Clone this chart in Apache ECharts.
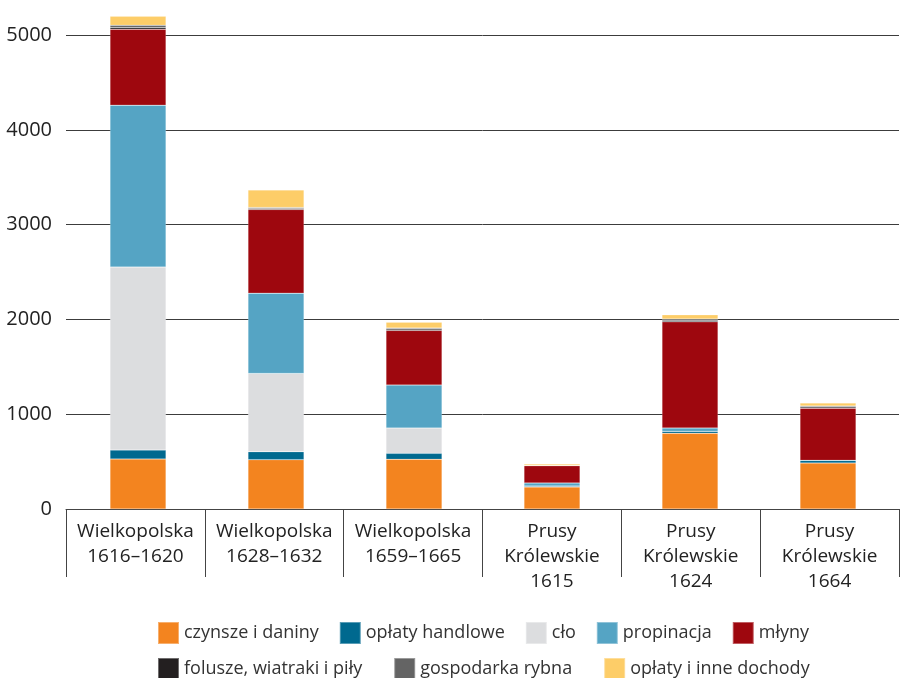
<!DOCTYPE html>
<html>
<head>
<meta charset="utf-8">
<script src="https://cdn.jsdelivr.net/npm/echarts@6/dist/echarts.min.js"></script>
<style>html,body{margin:0;padding:0;background:#fff}#c{width:904px;height:678px}</style>
</head>
<body>
<div id="c"></div>
<script>
const categories = ['Wielkopolska\n1616–1620','Wielkopolska\n1628–1632','Wielkopolska\n1659–1665','Prusy\nKrólewskie\n1615','Prusy\nKrólewskie\n1624','Prusy\nKrólewskie\n1664'];
const seriesNames = ['czynsze i daniny','opłaty handlowe','cło','propinacja','młyny','folusze, wiatraki i piły','gospodarka rybna','opłaty i inne dochody'];
const czynsze    = [527, 520, 524, 232, 798, 485];
const handlowe   = [95, 84, 63, 10, 21, 28];
const clo        = [1930, 826, 267, 0, 0, 0];
const propinacja = [1708, 847, 453, 33, 35, 0];
const mlyny      = [800, 882, 577, 182, 1120, 549];
const folusze    = [18, 12, 14, 2, 17, 15];
const rybna      = [24, 10, 10, 0, 12, 9];
const oplaty     = [95, 183, 63, 15, 45, 31];
const yTicks = [0, 1000, 2000, 3000, 4000, 5000];

const colors = ['#F3841F','#00698F','#DCDDDF','#55A4C4','#9E070E','#231F20','#646464','#FDCD68'];
const values = [czynsze, handlowe, clo, propinacja, mlyny, folusze, rybna, oplaty];
const font = '"Open Sans", "Noto Sans", sans-serif';

const chart = echarts.init(document.getElementById('c'), null, {renderer:'canvas'});
chart.setOption({
  animation: false,
  color: colors,
  grid: [
    {left: 66, right: 5, top: 35, bottom: 169, containLabel: false},
    {left: 69, right: 7, top: 35, bottom: 169, containLabel: false}
  ],
  legend: [
    {data: seriesNames.slice(0,5), top: 616, left: 152, itemWidth: 21, itemHeight: 22, itemGap: 20, icon: 'rect',
     textStyle: {fontSize: 18, color: '#333', fontFamily: font}},
    {data: seriesNames.slice(5), top: 652, left: 152, itemWidth: 21, itemHeight: 22, itemGap: 31, icon: 'rect',
     textStyle: {fontSize: 18, color: '#333', fontFamily: font}}
  ],
  xAxis: [{
    type: 'category', data: categories, gridIndex: 0,
    axisLine: {lineStyle: {color: '#444', width: 1}},
    axisTick: {show: true, length: 68, interval: 0, lineStyle: {color: '#444'}},
    axisLabel: {interval: 0, margin: 10, fontSize: 19, lineHeight: 25, color: '#222', fontFamily: font, verticalAlign: 'top'}
  }, {
    type: 'category', data: categories, gridIndex: 1, show: false
  }],
  yAxis: [{
    type: 'value', min: 0, max: 5000, interval: 1000, gridIndex: 0,
    axisLine: {show: false}, axisTick: {show: false},
    axisLabel: {margin: 14, fontSize: 20, color: '#222', fontFamily: font,
      formatter: v => yTicks.includes(v) ? String(v) : ''},
    splitLine: {lineStyle: {color: '#3c3c3c', width: 1}}
  }, {
    type: 'value', min: 0, max: 5000, interval: 1000, gridIndex: 1, show: false, splitLine: {show: false}
  }],
  series: seriesNames.map((n, i) => ({
    name: n, type: 'bar', stack: 'total', data: values[i], barWidth: 56, clip: false,
    xAxisIndex: 1, yAxisIndex: 1,
    itemStyle: {color: colors[i], borderColor: 'rgba(255,255,255,0.35)', borderWidth: 0.5}
  }))
});
</script>
</body>
</html>
